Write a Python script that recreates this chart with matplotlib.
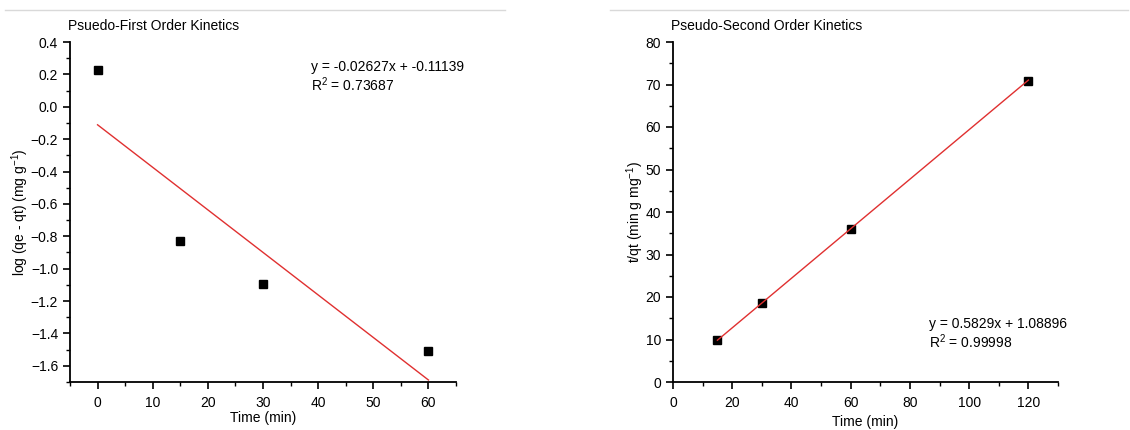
import matplotlib
matplotlib.use("Agg")
import matplotlib.pyplot as plt
from matplotlib.lines import Line2D
from matplotlib.ticker import MultipleLocator
import numpy as np

plt.rcParams['font.family'] = ['Liberation Sans', 'DejaVu Sans']
plt.rcParams['mathtext.fontset'] = 'custom'
plt.rcParams['mathtext.rm'] = 'Liberation Sans'
plt.rcParams['mathtext.it'] = 'Liberation Sans'

# pseudo-first order data
t1 = [0, 15, 30, 60]
logq = [0.225, -0.83, -1.095, -1.51]
slope1, icpt1 = -0.02627, -0.11139

# pseudo-second order data
t2 = [15, 30, 60, 120]
tq = [9.8, 18.6, 36.1, 70.9]
slope2, icpt2 = 0.5829, 1.08896

W, H = 1130, 430
FS = 10
fig = plt.figure(figsize=(W / 100, H / 100), dpi=100)

# thin gray border lines at the top
fig.add_artist(Line2D([5 / W, 505 / W], [1 - 10 / H, 1 - 10 / H], color='#d9d9d9', lw=1))
fig.add_artist(Line2D([610 / W, 1128 / W], [1 - 10 / H, 1 - 10 / H], color='#d9d9d9', lw=1))

ax1 = fig.add_axes([70 / W, 48 / H, 386 / W, 340 / H])
ax2 = fig.add_axes([673 / W, 48 / H, 385 / W, 340 / H])


def style(ax):
    for s in ['top', 'right']:
        ax.spines[s].set_visible(False)
    for s in ['left', 'bottom']:
        ax.spines[s].set_linewidth(1.3)
    ax.tick_params(which='major', direction='out', length=5, width=1.2, labelsize=FS)
    ax.tick_params(axis='x', which='major', pad=5)
    ax.tick_params(which='minor', direction='out', length=3, width=1.0)


ax1.plot(t1, logq, 's', color='black', markersize=6)
xx = np.array([t1[0], t1[-1]])
ax1.plot(xx, slope1 * xx + icpt1, color='#e03030', lw=1)
ax1.set_xlim(-5, 65)
ax1.set_ylim(-1.7, 0.4)
ax1.xaxis.set_major_locator(MultipleLocator(10))
ax1.xaxis.set_minor_locator(MultipleLocator(5))
ax1.yaxis.set_major_locator(MultipleLocator(0.2))
ax1.yaxis.set_minor_locator(MultipleLocator(0.1))
ax1.set_xlabel('Time (min)', fontsize=FS, labelpad=1)
ax1.set_ylabel('log (qe - qt) (mg g$^{-1}$)', fontsize=FS)
ax1.yaxis.set_label_coords(-39 / 386, 0.5)
style(ax1)
ax1.text(-0.005, 1.035, 'Psuedo-First Order Kinetics', transform=ax1.transAxes, fontsize=FS)
ax1.text(0.625, 0.915, 'y = -0.02627x + -0.11139', transform=ax1.transAxes, fontsize=FS)
ax1.text(0.625, 0.855, 'R$^{2}$ = 0.73687', transform=ax1.transAxes, fontsize=FS)

ax2.plot(t2, tq, 's', color='black', markersize=6)
xx = np.array([t2[0], t2[-1]])
ax2.plot(xx, slope2 * xx + icpt2, color='#e03030', lw=1)
ax2.set_xlim(0, 130)
ax2.set_ylim(0, 80)
ax2.xaxis.set_major_locator(MultipleLocator(20))
ax2.xaxis.set_minor_locator(MultipleLocator(10))
ax2.yaxis.set_major_locator(MultipleLocator(10))
ax2.yaxis.set_minor_locator(MultipleLocator(5))
ax2.set_xlabel('Time (min)', fontsize=FS, labelpad=4)
ax2.set_ylabel('t/qt (min g mg$^{-1}$)', fontsize=FS)
ax2.yaxis.set_label_coords(-27 / 385, 0.5)
style(ax2)
ax2.text(-0.005, 1.035, 'Pseudo-Second Order Kinetics', transform=ax2.transAxes, fontsize=FS)
ax2.text(0.665, 0.16, 'y = 0.5829x + 1.08896', transform=ax2.transAxes, fontsize=FS)
ax2.text(0.665, 0.10, 'R$^{2}$ = 0.99998', transform=ax2.transAxes, fontsize=FS)

fig.savefig('out.png', dpi=100)
